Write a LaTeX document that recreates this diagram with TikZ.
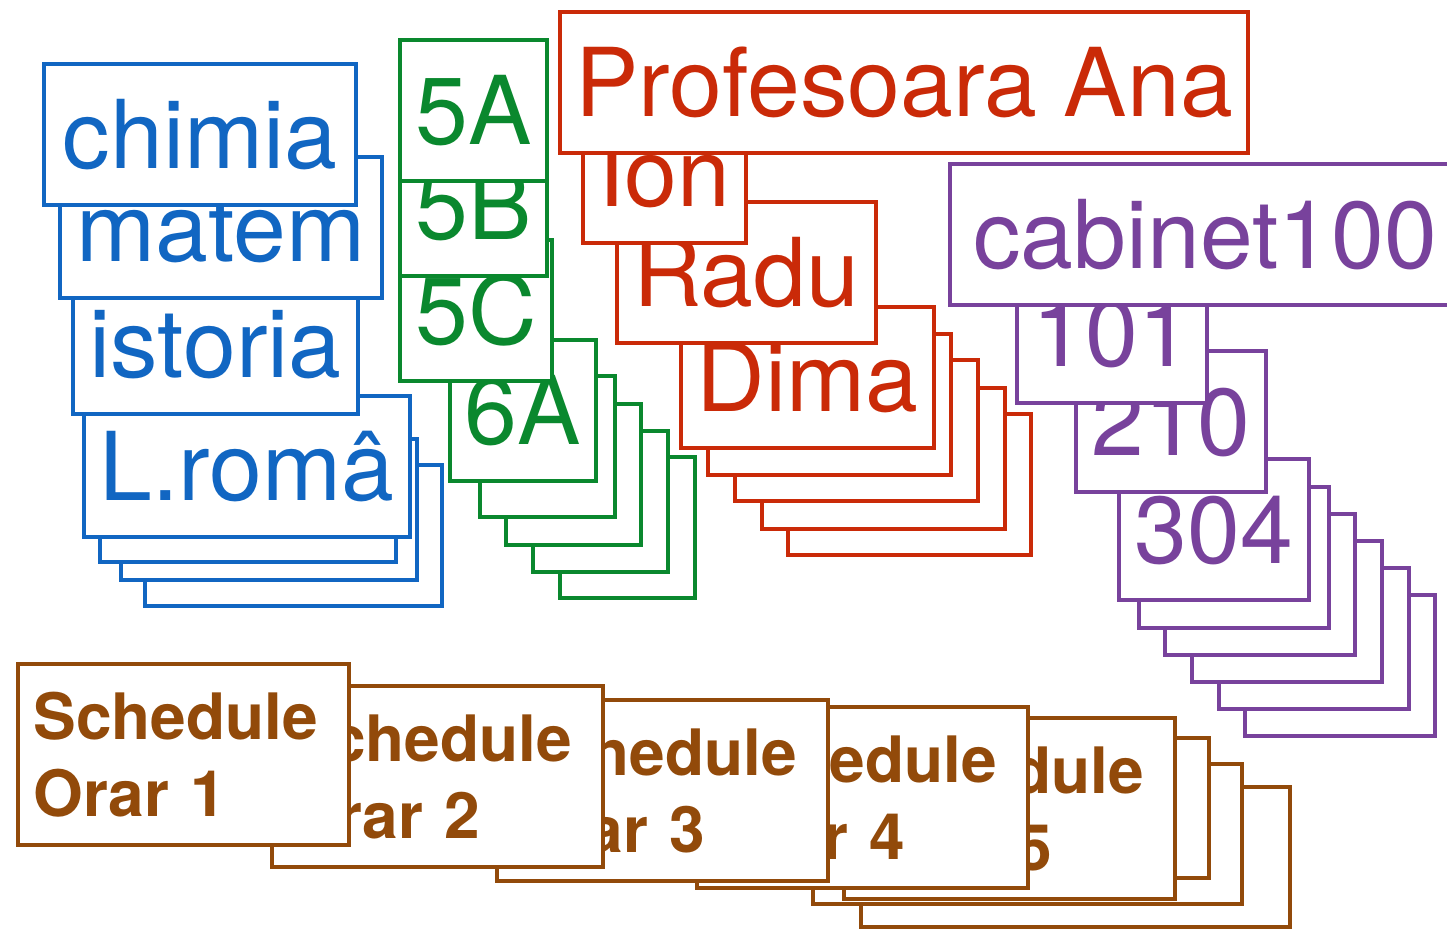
\documentclass[tikz,border=0pt]{standalone}
\usepackage{fontspec}
\setmainfont{TeX Gyre Heros}
\usepackage{xcolor}
\usepackage{tikz}

\definecolor{azul}{RGB}{17,102,194}
\definecolor{verde}{RGB}{10,136,46}
\definecolor{rojo}{RGB}{202,42,8}
\definecolor{morado}{RGB}{120,66,156}
\definecolor{marron}{RGB}{146,74,10}

\begin{document}
\begin{tikzpicture}[
    x=1pt, y=-1pt,
    % Estilos de nodos
    materia/.style={rectangle, draw=azul, fill=white, line width=4.5pt, anchor=north west, outer sep=0pt, inner sep=0pt, minimum height=141pt, text height=68pt, text depth=0pt, text=azul, font=\fontsize{95}{110}\selectfont},
    clase/.style={rectangle, draw=verde, fill=white, line width=4.5pt, anchor=north west, outer sep=0pt, inner sep=0pt, minimum height=141pt, text height=68pt, text depth=0pt, text=verde, font=\fontsize{95}{110}\selectfont},
    profe/.style={rectangle, draw=rojo, fill=white, line width=4.5pt, anchor=north west, outer sep=0pt, inner sep=0pt, minimum height=141pt, text height=68pt, text depth=0pt, text=rojo, font=\fontsize{95}{110}\selectfont},
    sala/.style={rectangle, draw=morado, fill=white, line width=4.5pt, anchor=north west, outer sep=0pt, inner sep=0pt, minimum width=190pt, minimum height=141pt, text height=68pt, text depth=0pt, text=morado, font=\fontsize{95}{110}\selectfont},
    orar/.style={rectangle, draw=marron, fill=white, line width=4.5pt, anchor=north west, outer sep=0pt, inner xsep=15.5pt, inner ysep=0pt, text width=300pt, align=left, minimum height=181pt, text=marron, font=\bfseries\fontsize{64}{77}\selectfont}
]

\useasboundingbox (0,0) rectangle (1447,931);

% Materias (de atras hacia delante)
\node[materia, minimum width=297pt] (mat7) at (145,465) {};
\node[materia, minimum width=296pt] (mat6) at (121,439) {};
\node[materia, minimum width=296pt] (mat5) at (100,421) {};
\node[materia, minimum width=326pt] (lroma) at (84,396) {L.româ};
\node[materia, minimum width=285pt] (istoria) at (73,273) {istoria};
\node[materia, minimum width=322pt] (matem) at (60,157) {matem};
\node[materia, minimum width=312pt] (chimia) at (44,64) {chimia};

% Clases
\node[clase, minimum width=135pt] (cl8) at (560,457) {};
\node[clase, minimum width=135pt] (cl7) at (533,431) {};
\node[clase, minimum width=135pt] (cl6) at (506,404) {};
\node[clase, minimum width=135pt] (cl5) at (480,376) {};
\node[clase, minimum width=146pt] (c6a) at (450,340) {6A};
\node[clase, minimum width=152pt] (c5c) at (400,240) {5C};
\node[clase, minimum width=147pt] (c5b) at (400,135) {5B};
\node[clase, minimum width=147pt] (c5a) at (400,40) {5A};

% Profesores
\node[profe, minimum width=243pt] (pr8) at (788,414) {};
\node[profe, minimum width=243pt] (pr7) at (762,388) {};
\node[profe, minimum width=243pt] (pr6) at (735,360) {};
\node[profe, minimum width=243pt] (pr5) at (708,334) {};
\node[profe, minimum width=253pt] (dima) at (681,307) {Dima};
\node[profe, minimum width=259pt] (radu) at (617,202) {Radu};
\node[profe, minimum width=163pt] (ion) at (583,102) {Ion};
\node[profe, minimum width=688pt] (ana) at (560,12) {Profesoara Ana};

% Salas
\node[sala] (sa9) at (1245,595) {};
\node[sala] (sa8) at (1219,568) {};
\node[sala] (sa7) at (1192,541) {};
\node[sala] (sa6) at (1165,514) {};
\node[sala] (sa5) at (1139,487) {};
\node[sala] (s304) at (1119,459) {304};
\node[sala] (s210) at (1076,351) {210};
\node[sala] (s101) at (1017,262) {101};
\node[sala, minimum width=510pt] (s100) at (950,164) {cabinet100};

% Horarios
\node[orar, minimum width=429pt, minimum height=140pt] (or8) at (861,787) {};
\node[orar, minimum width=429pt, minimum height=140pt] (or7) at (813,764) {};
\node[orar, minimum width=429pt, minimum height=140pt] (or6) at (780,738) {};
\node[orar] (or5) at (844,718) {Schedule\\Orar 5};
\node[orar] (or4) at (697,707) {Schedule\\Orar 4};
\node[orar] (or3) at (497,700) {Schedule\\Orar 3};
\node[orar] (or2) at (272,686) {Schedule\\Orar 2};
\node[orar] (or1) at (18,664) {Schedule\\Orar 1};

\end{tikzpicture}
\end{document}
